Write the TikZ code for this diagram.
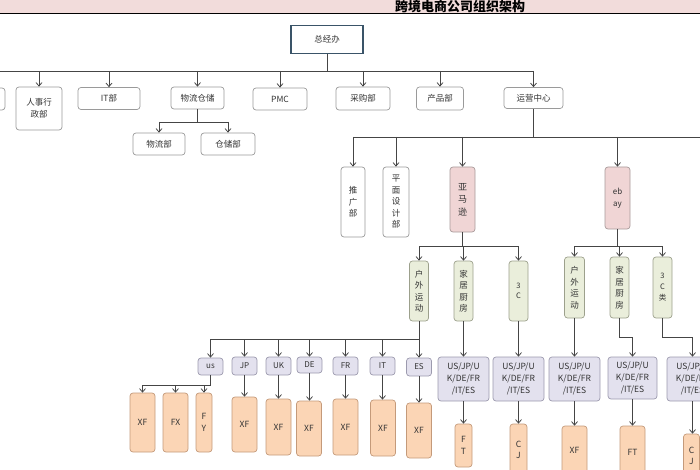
\documentclass[tikz,border=0pt]{standalone}
\usepackage{fontspec}
\newfontfamily\cjk{Noto Sans CJK SC}
\usetikzlibrary{arrows.meta}
\definecolor{hdr}{HTML}{F2DCDB}
\definecolor{linec}{HTML}{454545}
\definecolor{boxb}{HTML}{9A9A9A}
\definecolor{zjbb}{HTML}{3A5468}
\definecolor{txtc}{HTML}{333333}
\definecolor{pinkf}{HTML}{F0D5D5}
\definecolor{pinkb}{HTML}{A89A9A}
\definecolor{greenf}{HTML}{EAEEDB}
\definecolor{greenb}{HTML}{9CA08C}
\definecolor{lavf}{HTML}{E3E1EE}
\definecolor{lavb}{HTML}{9C9AAE}
\definecolor{orf}{HTML}{FBD5B5}
\definecolor{orb}{HTML}{C49A7A}
\begin{document}
\begin{tikzpicture}[x=1pt,y=-1pt,
  line/.style={draw=linec, line width=0.9pt},
  conn/.style={line, -{Straight Barb[length=3.5pt,width=6pt,line width=0.8pt]}},
  bx/.style={draw=boxb, line width=0.7pt, rounded corners=3pt, inner sep=0pt, align=center,
             font=\cjk\fontsize{8.5}{11.5}\selectfont, text=txtc},
  wbox/.style={bx, fill=white},
  pbox/.style={bx, fill=pinkf, draw=pinkb},
  gbox/.style={bx, fill=greenf, draw=greenb},
  lbox/.style={bx, fill=lavf, draw=lavb},
  obox/.style={bx, fill=orf, draw=orb},
  sz/.style 2 args={minimum width=#1pt, minimum height=#2pt},
]
\useasboundingbox (0,0) rectangle (700,470);
\clip (0,0) rectangle (700,470);
\fill[hdr] (0,0) rectangle (700,13);
\draw[black, line width=1.1pt] (0,13.5) -- (700,13.5);
\node[font=\cjk\bfseries\fontsize{13}{13}\selectfont, inner sep=0pt] (title) at (460,6.5) {跨境电商公司组织架构};

% top
\node[wbox, sz={72}{28}, draw=zjbb, line width=1.3pt, rounded corners=0pt] (zjb) at (327,39.5) {总经办};

% level 1
\node[wbox, sz={45}{22}] (cut) at (-17.5,99) {};
\node[wbox, sz={46}{43}] (rsxz) at (39,108.5) {人事行\\政部};
\node[wbox, sz={62}{22}] (itb) at (109,98.5) {IT部};
\node[wbox, sz={53}{22}] (wlcc) at (197.5,98) {物流仓储};
\node[wbox, sz={54}{22}] (pmc) at (280,99) {PMC};
\node[wbox, sz={54}{23}] (cgb) at (363,98.5) {采购部};
\node[wbox, sz={47}{23}] (cpb) at (440,98.5) {产品部};
\node[wbox, sz={59}{21}] (yyzx) at (533.5,98) {运营中心};

\node[wbox, sz={52}{22}] (wlb) at (159,144) {物流部};
\node[wbox, sz={54}{22}] (ccb) at (228,144) {仓储部};

% level 2
\node[wbox, sz={24}{70}] (tgb) at (353,202) {推\\广\\部};
\node[wbox, sz={26}{70}] (pmsj) at (396,202) {平\\面\\设\\计\\部};
\node[pbox, sz={25}{65}, font=\cjk\fontsize{9}{12.5}\selectfont] (ymx) at (462.5,199.5) {亚\\马\\逊};
\node[pbox, sz={25}{62}, font=\cjk\fontsize{8}{12}\selectfont] (eb) at (617.5,198) {eb\\ay};

% level 3
\node[gbox, sz={19}{60}] (hw1) at (419,291) {户\\外\\运\\动};
\node[gbox, sz={19}{60}] (jj1) at (463.5,291) {家\\居\\厨\\房};
\node[gbox, sz={19}{60}, font=\cjk\fontsize{7.5}{10}\selectfont] (c1) at (518.5,291) {3\\C};
\node[gbox, sz={20}{61}] (hw2) at (574.5,287.5) {户\\外\\运\\动};
\node[gbox, sz={19}{61}] (jj2) at (619.5,287.5) {家\\居\\厨\\房};
\node[gbox, sz={19}{61}, font=\cjk\fontsize{7.5}{11}\selectfont] (c2) at (662.5,287.5) {3\\C\\类};

% countries
\node[lbox, sz={25}{17}, font=\cjk\fontsize{8}{10}\selectfont] (us) at (210.5,366.5) {us};
\node[lbox, sz={25}{18}, font=\cjk\fontsize{8}{10}\selectfont] (jp) at (244.5,366) {JP};
\node[lbox, sz={25}{18}, font=\cjk\fontsize{8}{10}\selectfont] (uk) at (278.5,366) {UK};
\node[lbox, sz={25}{16}, font=\cjk\fontsize{8}{10}\selectfont] (de) at (309.5,365) {DE};
\node[lbox, sz={25}{18}, font=\cjk\fontsize{8}{10}\selectfont] (fr) at (345.5,366) {FR};
\node[lbox, sz={25}{18}, font=\cjk\fontsize{8}{10}\selectfont] (it) at (382.5,366) {IT};
\node[lbox, sz={25}{18}, font=\cjk\fontsize{8}{10}\selectfont] (es) at (419,367) {ES};

% orange under countries
\node[obox, sz={25}{59}] (xf1) at (142.5,422.5) {XF};
\node[obox, sz={25}{59}] (fx) at (175.5,422.5) {FX};
\node[obox, sz={16}{59}] (fy) at (204,422.5) {F\\Y};
\node[obox, sz={25}{55}] (xfjp) at (244.5,424.5) {XF};
\node[obox, sz={25}{56}] (xfuk) at (278.5,427) {XF};
\node[obox, sz={25}{55}] (xfde) at (309,428.5) {XF};
\node[obox, sz={25}{56}] (xffr) at (345.5,427) {XF};
\node[obox, sz={25}{56}] (xfit) at (383,428) {XF};
\node[obox, sz={25}{55}] (xfes) at (419,430.5) {XF};

% markets
\node[lbox, sz={51}{44}, font=\cjk\fontsize{8.5}{12}\selectfont] (m1) at (463.5,379) {US/JP/U\\K/DE/FR\\/IT/ES};
\node[lbox, sz={51}{44}, font=\cjk\fontsize{8.5}{12}\selectfont] (m2) at (518.5,379) {US/JP/U\\K/DE/FR\\/IT/ES};
\node[lbox, sz={51}{44}, font=\cjk\fontsize{8.5}{12}\selectfont] (m3) at (574.5,379) {US/JP/U\\K/DE/FR\\/IT/ES};
\node[lbox, sz={49}{42}, font=\cjk\fontsize{8.5}{12}\selectfont] (m4) at (632.5,378) {US/JP/U\\K/DE/FR\\/IT/ES};
\node[lbox, sz={51}{44}, font=\cjk\fontsize{8.5}{12}\selectfont] (m5) at (692.5,379) {US/JP/U\\K/DE/FR\\/IT/ES};

\node[obox, sz={17}{43}] (ft1) at (463.5,445.5) {F\\T};
\node[obox, sz={17}{52}] (cj1) at (518.5,450) {C\\J};
\node[obox, sz={25}{48}] (xf3) at (574.5,450) {XF};
\node[obox, sz={25}{52}] (ft4) at (632.5,452) {FT};
\node[obox, sz={16}{44}] (cj5) at (691.5,456) {C\\J};

% connectors
\coordinate (b1) at (0,71);
\draw[line] (zjb.south) -- (zjb.south |- b1);
\draw[line] (b1) -- (yyzx.north |- b1);
\foreach \n in {rsxz,itb,wlcc,pmc,cgb,cpb,yyzx}
  \draw[conn] (\n.north |- b1) -- (\n.north);

\coordinate (b2) at (0,122);
\draw[line] (wlcc.south) -- (wlcc.south |- b2);
\draw[line] (wlb.north |- b2) -- (ccb.north |- b2);
\foreach \n in {wlb,ccb}
  \draw[conn] (\n.north |- b2) -- (\n.north);

\coordinate (b3) at (0,137);
\coordinate (yyR) at (700,137);
\draw[line] (yyzx.south) -- (yyzx.south |- b3);
\draw[line] (tgb.north |- b3) -- (yyR);
\foreach \n in {tgb,pmsj,ymx,eb}
  \draw[conn] (\n.north |- b3) -- (\n.north);

\coordinate (b4) at (0,246);
\draw[line] (ymx.south) -- (ymx.south |- b4);
\draw[line] (hw1.north |- b4) -- (c1.north |- b4);
\foreach \n in {hw1,jj1,c1}
  \draw[conn] (\n.north |- b4) -- (\n.north);
\draw[line] (eb.south) -- (eb.south |- b4);
\draw[line] (hw2.north |- b4) -- (c2.north |- b4);
\foreach \n in {hw2,jj2,c2}
  \draw[conn] (\n.north |- b4) -- (\n.north);

\coordinate (b5) at (0,339);
\draw[line] (hw1.south) -- (hw1.south |- b5);
\draw[line] (us.north |- b5) -- (es.north |- b5);
\foreach \n in {us,jp,uk,de,fr,it,es}
  \draw[conn] (\n.north |- b5) -- (\n.north);

\coordinate (b6) at (0,385);
\draw[line] (us.south) -- (us.south |- b6);
\draw[line] (xf1.north |- b6) -- (us.south |- b6);
\foreach \n in {xf1,fx,fy}
  \draw[conn] (\n.north |- b6) -- (\n.north);

\draw[conn] (jp.south) -- (jp.south |- xfjp.north);
\draw[conn] (uk.south) -- (uk.south |- xfuk.north);
\draw[conn] (de.south) -- (de.south |- xfde.north);
\draw[conn] (fr.south) -- (fr.south |- xffr.north);
\draw[conn] (it.south) -- (it.south |- xfit.north);
\draw[conn] (es.south) -- (es.south |- xfes.north);

\draw[conn] (jj1.south) -- (jj1.south |- m1.north);
\draw[conn] (c1.south) -- (c1.south |- m2.north);
\draw[conn] (hw2.south) -- (hw2.south |- m3.north);
\coordinate (b7) at (0,337);
\draw[conn] (jj2.south) -- (jj2.south |- b7) -| (m4.north);
\draw[conn] (c2.south) -- (c2.south |- b7) -| (m5.north);

\draw[conn] (m1.south) -- (m1.south |- ft1.north);
\draw[conn] (m2.south) -- (m2.south |- cj1.north);
\draw[conn] (m3.south) -- (m3.south |- xf3.north);
\draw[conn] (m4.south) -- (m4.south |- ft4.north);
\draw[conn] (m5.south) -- (m5.south |- cj5.north);
\end{tikzpicture}
\end{document}
